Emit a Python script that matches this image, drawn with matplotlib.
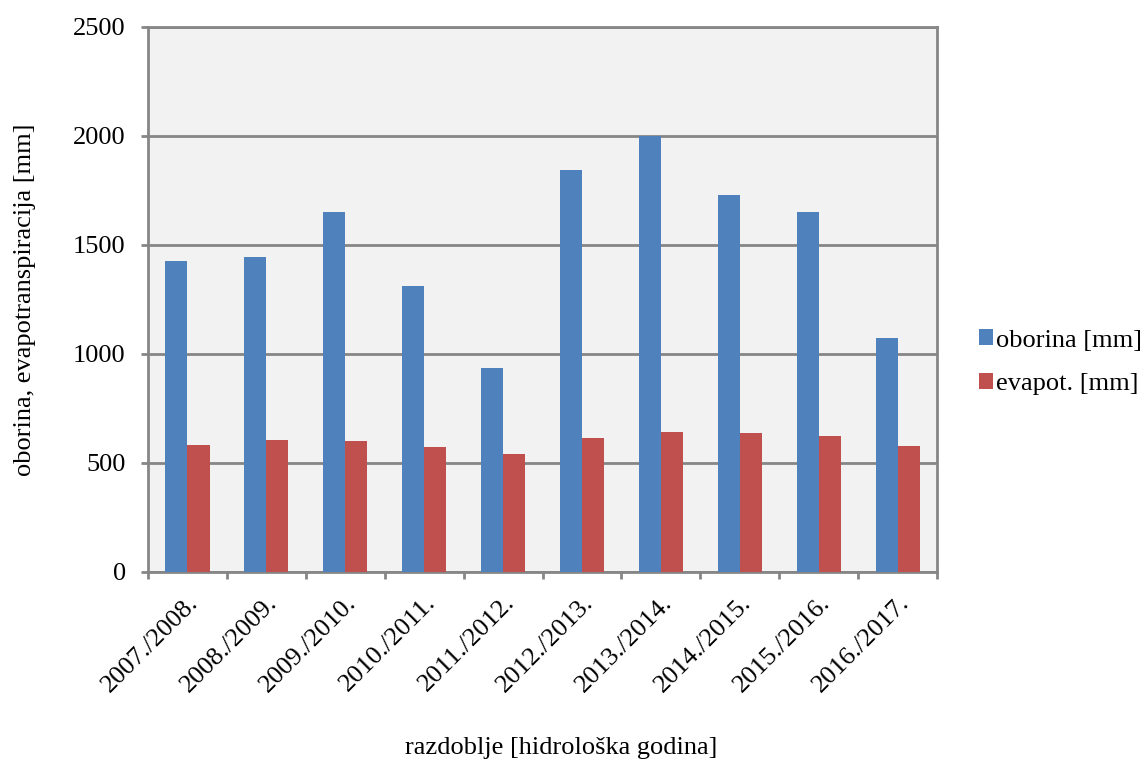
import numpy as np
import matplotlib
matplotlib.use("Agg")
import matplotlib.pyplot as plt

plt.rcParams["font.family"] = ["Liberation Serif", "DejaVu Serif"]

periods = ["2007./2008.", "2008./2009.", "2009./2010.", "2010./2011.", "2011./2012.",
           "2012./2013.", "2013./2014.", "2014./2015.", "2015./2016.", "2016./2017."]
oborina = [1425, 1443, 1653, 1314, 936, 1846, 2000, 1727, 1653, 1072]
evapot = [581, 604, 603, 575, 543, 615, 642, 636, 626, 578]

BLUE = "#4F81BD"
RED = "#C0504D"
GRID = "#868686"
FS = 19

fig = plt.figure(figsize=(11.47, 7.6), dpi=100)
ax = fig.add_axes([0.129, 0.2474, 0.688, 0.7171])
ax.set_facecolor("#F2F2F2")

x = np.arange(len(periods))
w = 0.28
ax.bar(x - w / 2, oborina, w, color=BLUE, label="oborina [mm]", zorder=3)
ax.bar(x + w / 2, evapot, w, color=RED, label="evapot. [mm]", zorder=3)

ax.set_xlim(-0.5, len(periods) - 0.5)
ax.set_ylim(0, 2500)
ax.set_yticks(range(0, 2501, 500))
ax.yaxis.grid(True, color=GRID, linewidth=2, zorder=1)

ax.set_xticks(x)
ax.set_xticklabels(periods, rotation=45, ha="right", rotation_mode="anchor", fontsize=FS)
ax.set_xticks(np.arange(-0.5, len(periods), 1), minor=True)
ax.tick_params(axis="x", which="major", length=0, pad=14)
ax.tick_params(axis="x", which="minor", length=5, width=2, color=GRID)
ax.tick_params(axis="y", length=5, width=2, color=GRID, labelsize=FS, pad=11)

for s in ax.spines.values():
    s.set_color(GRID)
    s.set_linewidth(2)

# axis titles placed directly, like the spreadsheet original
fig.text(561 / 1147, 1 - 748 / 760, "razdoblje [hidrološka godina]",
         fontsize=FS, ha="center", va="center")
fig.text(25 / 1147, 1 - 300 / 760, "oborina, evapotranspiracija [mm]",
         fontsize=FS, ha="center", va="center", rotation=90)

ax.legend(loc="center left", bbox_to_anchor=(1.046, 0.385), frameon=False, fontsize=FS,
          handlelength=0.55, handleheight=0.55, handletextpad=0.12, labelspacing=0.8,
          borderaxespad=0, borderpad=0.2)

fig.savefig("out.png", dpi=100)
